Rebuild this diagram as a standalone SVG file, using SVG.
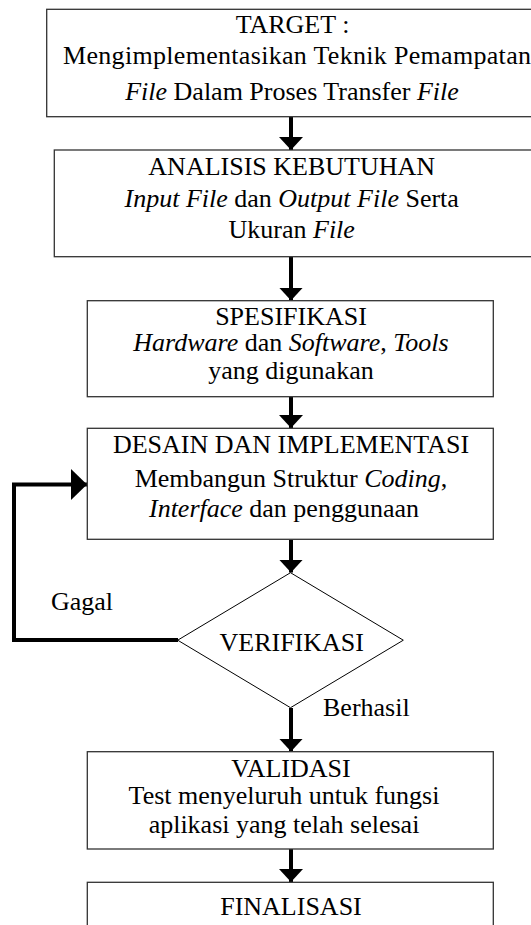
<svg xmlns="http://www.w3.org/2000/svg" width="531" height="925" viewBox="0 0 531 925">
<style>
  text { font-family: "Liberation Serif", "Times New Roman", serif; font-size: 26px; fill: #000; }
  .c { text-anchor: middle; }
  .i { font-style: italic; }
  .box { fill: #fff; stroke: #333; stroke-width: 1.3; }
  .dia { fill: #fff; stroke: #000; stroke-width: 1; }
  .con { fill: none; stroke: #000; stroke-width: 4; }
</style>
<defs>
  <marker id="ah" viewBox="0 0 13 24" refX="13" refY="12" markerWidth="13" markerHeight="24" orient="auto" markerUnits="userSpaceOnUse">
    <path d="M0,0 L13,12 L0,24 z" fill="#000"/>
  </marker>
  <marker id="ahBig" viewBox="0 0 16 31" refX="16" refY="15.5" markerWidth="16" markerHeight="31" orient="auto" markerUnits="userSpaceOnUse">
    <path d="M0,0 L16,15.5 L0,31 z" fill="#000"/>
  </marker>
</defs>
<rect width="531" height="925" fill="#fff"/>

<g id="connectors">
  <line class="con" x1="291" y1="117" x2="291" y2="150" marker-end="url(#ah)"/>
  <line class="con" x1="291" y1="257" x2="291" y2="300.5" marker-end="url(#ah)"/>
  <line class="con" x1="291" y1="397" x2="291" y2="428" marker-end="url(#ah)"/>
  <line class="con" x1="291" y1="540" x2="291" y2="572.5" marker-end="url(#ah)"/>
  <line class="con" x1="291" y1="708" x2="291" y2="751.5" marker-end="url(#ah)"/>
  <line class="con" x1="291" y1="849" x2="291" y2="882" marker-end="url(#ah)"/>
  <path class="con" d="M178,640 H14 V484.5 H87" stroke-linejoin="miter" marker-end="url(#ahBig)"/>
  <text x="51" y="610">Gagal</text>
  <text x="323" y="715.5">Berhasil</text>
</g>

<g id="target">
  <rect class="box" x="46.7" y="9.3" width="500" height="107.4"/>
  <text class="c" x="292.5" y="33">TARGET :</text>
  <text x="63" y="63.5" textLength="468" lengthAdjust="spacing">Mengimplementasikan Teknik Pemampatan</text>
  <text class="c" x="292" y="100"><tspan class="i">File</tspan> Dalam Proses Transfer <tspan class="i">File</tspan></text>
</g>

<g id="analisis">
  <rect class="box" x="54.3" y="150" width="490" height="106.7"/>
  <text class="c" x="291.7" y="175">ANALISIS KEBUTUHAN</text>
  <text class="c" x="291.7" y="206.5"><tspan class="i">Input File</tspan> dan <tspan class="i">Output File</tspan> Serta</text>
  <text class="c" x="291.7" y="237.5">Ukuran <tspan class="i">File</tspan></text>
</g>

<g id="spesifikasi">
  <rect class="box" x="87.3" y="300.7" width="406" height="96"/>
  <text class="c" x="291" y="325">SPESIFIKASI</text>
  <text class="c" x="291" y="350.5"><tspan class="i">Hardware</tspan> dan <tspan class="i">Software</tspan>, <tspan class="i">Tools</tspan></text>
  <text class="c" x="291" y="379.3">yang digunakan</text>
</g>

<g id="desain">
  <rect class="box" x="87.3" y="428.3" width="406" height="111"/>
  <text class="c" x="291" y="453.3">DESAIN DAN IMPLEMENTASI</text>
  <text class="c" x="291" y="486.7">Membangun Struktur <tspan class="i">Coding</tspan>,</text>
  <text class="c" x="284" y="516.7"><tspan class="i">Interface</tspan> dan penggunaan</text>
</g>

<g id="verifikasi">
  <polygon class="dia" points="290.5,572.7 403.3,640.2 290.5,707.7 177.7,640.2"/>
  <text class="c" x="291.7" y="650.7">VERIFIKASI</text>
</g>

<g id="validasi">
  <rect class="box" x="87.3" y="751.7" width="406" height="97.3"/>
  <text class="c" x="291" y="776.7">VALIDASI</text>
  <text class="c" x="284" y="804">Test menyeluruh untuk fungsi</text>
  <text class="c" x="284" y="833.3">aplikasi yang telah selesai</text>
</g>

<g id="finalisasi">
  <rect class="box" x="87.3" y="882.3" width="406" height="60"/>
  <text class="c" x="291" y="915">FINALISASI</text>
</g>
</svg>
